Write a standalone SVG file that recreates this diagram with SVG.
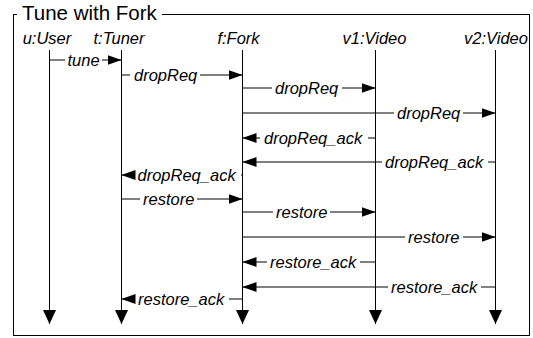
<svg xmlns="http://www.w3.org/2000/svg" width="533" height="338" viewBox="0 0 533 338">
<style>
.frame{fill:none;stroke:#000;stroke-width:1}
.title{font-family:"Liberation Sans",Arial,sans-serif;font-size:20.5px;fill:#000}
.pl{font-family:"Liberation Sans",Arial,sans-serif;font-size:16.5px;font-style:italic;fill:#000;text-anchor:middle}
.life{stroke:#000;stroke-width:1;fill:none;marker-end:url(#lah)}
.msg{stroke:#000;stroke-width:1;fill:none}
.arr{marker-end:url(#ah)}
.ml{font-family:"Liberation Sans",Arial,sans-serif;font-size:16.5px;font-style:italic;fill:#000}
</style>
<defs>
<marker id="ah" markerWidth="14" markerHeight="10" refX="14" refY="5" orient="auto" markerUnits="userSpaceOnUse"><path d="M0,0 L14,5 L0,10 z" fill="#000"/></marker>
<marker id="lah" markerWidth="14" markerHeight="13" refX="14" refY="6.5" orient="auto" markerUnits="userSpaceOnUse"><path d="M0,0 L14,6.5 L0,13 z" fill="#000"/></marker>
</defs>
<rect width="533" height="338" fill="#fff"/>
<g id="frame">
<rect class="frame" x="13.5" y="14.5" width="516" height="321"/>
<rect x="17" y="8" width="145" height="14" fill="#fff"/>
<text class="title" x="22" y="20">Tune with Fork</text>
</g>
<g id="user"><text class="pl" x="47" y="44">u:User</text><line class="life" x1="49.5" y1="50" x2="49.5" y2="324"/></g>
<g id="tuner"><text class="pl" x="119" y="44">t:Tuner</text><line class="life" x1="121.5" y1="50" x2="121.5" y2="324"/></g>
<g id="fork"><text class="pl" x="238.5" y="44">f:Fork</text><line class="life" x1="242.5" y1="50" x2="242.5" y2="324"/></g>
<g id="video1"><text class="pl" x="374.5" y="44">v1:Video</text><line class="life" x1="375.5" y1="50" x2="375.5" y2="324"/></g>
<g id="video2"><text class="pl" x="496" y="44">v2:Video</text><line class="life" x1="495.5" y1="50" x2="495.5" y2="324"/></g>
<g id="connectors">
<g id="m1"><path class="msg" d="M49.5,60H65"/><path class="msg arr" d="M102,60H121.5"/><text class="ml" x="67.5" y="66">tune</text></g>
<g id="m2"><path class="msg" d="M121.5,75H130"/><path class="msg arr" d="M200,75H242.5"/><text class="ml" x="134" y="81">dropReq</text></g>
<g id="m3"><path class="msg" d="M242.5,88H272"/><path class="msg arr" d="M342,88H375.5"/><text class="ml" x="275" y="94">dropReq</text></g>
<g id="m4"><path class="msg" d="M242.5,113H394"/><path class="msg arr" d="M463,113H495.5"/><text class="ml" x="397" y="119">dropReq</text></g>
<g id="m5"><path class="msg" d="M375.5,138H368"/><path class="msg arr" d="M260,138H242.5"/><text class="ml" x="264" y="144">dropReq_ack</text></g>
<g id="m6"><path class="msg" d="M495.5,162H488"/><path class="msg arr" d="M382,162H242.5"/><text class="ml" x="385" y="168">dropReq_ack</text></g>
<g id="m7"><path class="msg" d="M242.5,175H241"/><path class="msg arr" d="M135,175H121.5"/><text class="ml" x="137.5" y="181">dropReq_ack</text></g>
<g id="m8"><path class="msg" d="M121.5,199H140"/><path class="msg arr" d="M197,199H242.5"/><text class="ml" x="143" y="205">restore</text></g>
<g id="m9"><path class="msg" d="M242.5,212H273"/><path class="msg arr" d="M330,212H375.5"/><text class="ml" x="276" y="218">restore</text></g>
<g id="m10"><path class="msg" d="M242.5,237H405"/><path class="msg arr" d="M463,237H495.5"/><text class="ml" x="408" y="243">restore</text></g>
<g id="m11"><path class="msg" d="M375.5,262H360"/><path class="msg arr" d="M267,262H242.5"/><text class="ml" x="270" y="268">restore_ack</text></g>
<g id="m12"><path class="msg" d="M495.5,287H481"/><path class="msg arr" d="M388,287H242.5"/><text class="ml" x="391" y="293">restore_ack</text></g>
<g id="m13"><path class="msg" d="M242.5,299H229"/><path class="msg arr" d="M135,299H121.5"/><text class="ml" x="138" y="305">restore_ack</text></g>
</g>
</svg>
